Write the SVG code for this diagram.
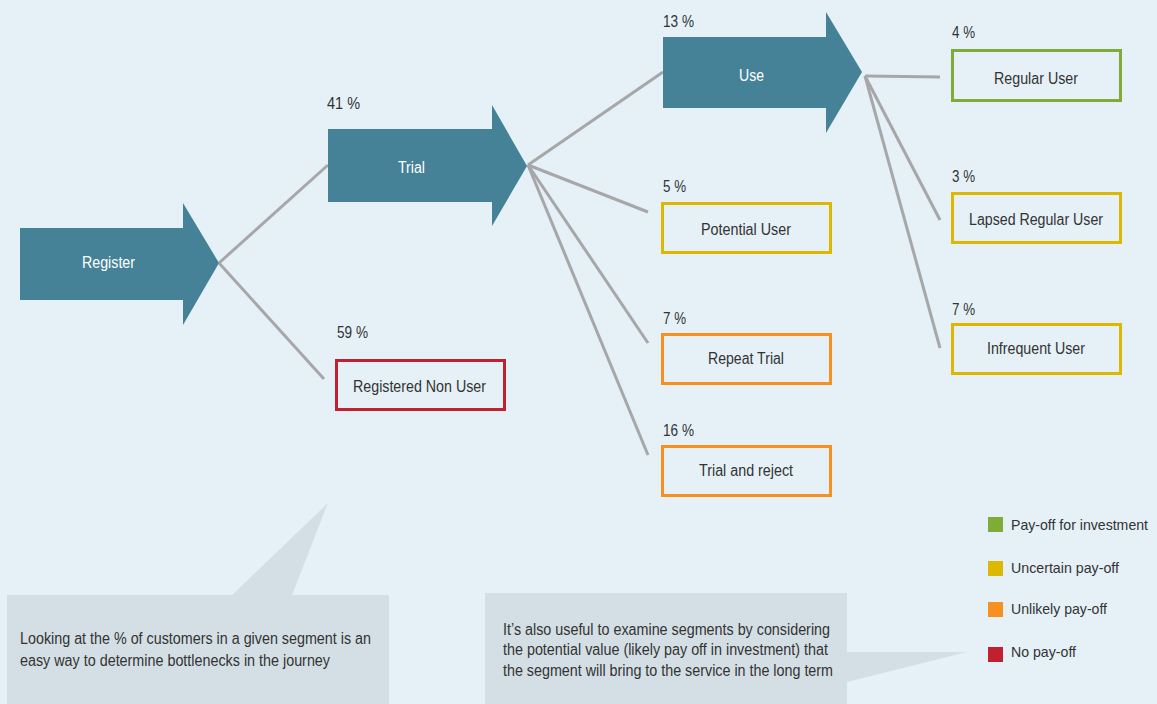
<svg xmlns="http://www.w3.org/2000/svg" width="1157" height="704" viewBox="0 0 1157 704">
<style>
text{font-family:"Liberation Sans",Arial,sans-serif;font-size:16px;fill:#333}
.w{fill:#ffffff}
.arrow{fill:#458297}
.box{fill:none;stroke-width:3}
.g{stroke:#7fac36}.y{stroke:#dcb900}.o{stroke:#f7901e}.r{stroke:#c1202f}
.conn line{stroke:#a7a7aa;stroke-width:3;stroke-linecap:butt}
.call{fill:#d3dfe4}
.leg{font-size:15px}
</style>
<rect width="1157" height="704" fill="#e5f1f7"/>
<g id="connectors" class="conn">
<line x1="219" y1="263" x2="328" y2="165"/>
<line x1="219" y1="263" x2="324" y2="379"/>
<line x1="528" y1="165" x2="663" y2="72"/>
<line x1="528" y1="165" x2="648" y2="212"/>
<line x1="528" y1="165" x2="648" y2="343"/>
<line x1="528" y1="165" x2="648" y2="455"/>
<line x1="865" y1="76" x2="940" y2="77"/>
<line x1="865" y1="76" x2="940" y2="220"/>
<line x1="865" y1="76" x2="940" y2="348"/>
</g>
<g id="register">
<polygon class="arrow" points="20,228 183,228 183,203 219,263 183,325 183,300 20,300"/>
<text class="w" x="82" y="268" textLength="53" lengthAdjust="spacingAndGlyphs">Register</text>
</g>
<g id="trial">
<polygon class="arrow" points="328,129 492,129 492,105 527,166 492,226 492,202 328,202"/>
<text class="w" x="398" y="173" textLength="27" lengthAdjust="spacingAndGlyphs">Trial</text>
<text x="327" y="109" textLength="33" lengthAdjust="spacingAndGlyphs">41 %</text>
</g>
<g id="use">
<polygon class="arrow" points="663,37 826,37 826,12 862,72 826,133 826,108 663,108"/>
<text class="w" x="739" y="81" textLength="25" lengthAdjust="spacingAndGlyphs">Use</text>
<text x="663" y="27" textLength="31" lengthAdjust="spacingAndGlyphs">13 %</text>
</g>
<g id="registered-non-user">
<rect class="box r" x="336.500" y="360.500" width="168" height="49"/>
<text x="353" y="392" textLength="133" lengthAdjust="spacingAndGlyphs">Registered Non User</text>
<text x="337" y="338" textLength="31" lengthAdjust="spacingAndGlyphs">59 %</text>
</g>
<g id="potential-user">
<rect class="box y" x="662.500" y="203.500" width="168" height="49"/>
<text x="701" y="235" textLength="90" lengthAdjust="spacingAndGlyphs">Potential User</text>
<text x="663" y="192" textLength="23" lengthAdjust="spacingAndGlyphs">5 %</text>
</g>
<g id="repeat-trial">
<rect class="box o" x="662.500" y="334.500" width="168" height="49"/>
<text x="708" y="364" textLength="76" lengthAdjust="spacingAndGlyphs">Repeat Trial</text>
<text x="663" y="324" textLength="23" lengthAdjust="spacingAndGlyphs">7 %</text>
</g>
<g id="trial-and-reject">
<rect class="box o" x="662.500" y="446.500" width="168" height="49"/>
<text x="699" y="476" textLength="94" lengthAdjust="spacingAndGlyphs">Trial and reject</text>
<text x="663" y="436" textLength="31" lengthAdjust="spacingAndGlyphs">16 %</text>
</g>
<g id="regular-user">
<rect class="box g" x="952.500" y="50.500" width="168" height="50"/>
<text x="994" y="84" textLength="84" lengthAdjust="spacingAndGlyphs">Regular User</text>
<text x="952" y="38" textLength="23" lengthAdjust="spacingAndGlyphs">4 %</text>
</g>
<g id="lapsed-regular-user">
<rect class="box y" x="952.500" y="193.500" width="168" height="49"/>
<text x="969" y="225" textLength="134" lengthAdjust="spacingAndGlyphs">Lapsed Regular User</text>
<text x="952" y="182" textLength="23" lengthAdjust="spacingAndGlyphs">3 %</text>
</g>
<g id="infrequent-user">
<rect class="box y" x="952.500" y="324.500" width="168" height="49"/>
<text x="987" y="354" textLength="98" lengthAdjust="spacingAndGlyphs">Infrequent User</text>
<text x="952" y="315" textLength="23" lengthAdjust="spacingAndGlyphs">7 %</text>
</g>
<g id="callout-1">
<polygon class="call" points="7,595 232,595 328,503 292,595 389,595 389,704 7,704"/>
<text x="20" y="644" textLength="351" lengthAdjust="spacingAndGlyphs">Looking at the % of customers in a given segment is an</text>
<text x="20" y="666" textLength="310" lengthAdjust="spacingAndGlyphs">easy way to determine bottlenecks in the journey</text>
</g>
<g id="callout-2">
<polygon class="call" points="485,593 847,593 847,652 967,652 847,682 847,704 485,704"/>
<text x="503" y="635" textLength="327" lengthAdjust="spacingAndGlyphs">It’s also useful to examine segments by considering</text>
<text x="503" y="655" textLength="325" lengthAdjust="spacingAndGlyphs">the potential value (likely pay off in investment) that</text>
<text x="503" y="676" textLength="330" lengthAdjust="spacingAndGlyphs">the segment will bring to the service in the long term</text>
</g>
<g id="legend">
<rect x="988" y="517" width="15" height="15" fill="#7fac36"/>
<text class="leg" x="1011" y="530" textLength="137" lengthAdjust="spacingAndGlyphs">Pay-off for investment</text>
<rect x="988" y="561" width="15" height="15" fill="#dcb900"/>
<text class="leg" x="1011" y="573" textLength="108" lengthAdjust="spacingAndGlyphs">Uncertain pay-off</text>
<rect x="988" y="602" width="15" height="15" fill="#f7901e"/>
<text class="leg" x="1011" y="614" textLength="96" lengthAdjust="spacingAndGlyphs">Unlikely pay-off</text>
<rect x="988" y="647" width="15" height="15" fill="#c1202f"/>
<text class="leg" x="1011" y="657" textLength="65" lengthAdjust="spacingAndGlyphs">No pay-off</text>
</g>
</svg>
